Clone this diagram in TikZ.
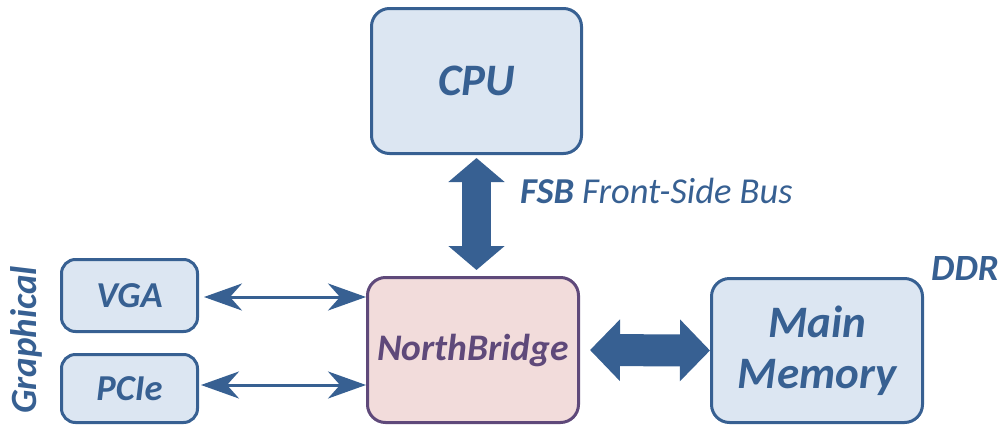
\documentclass[tikz,border=0pt]{standalone}
\usepackage{fontspec}
\setmainfont{Carlito}
\usetikzlibrary{arrows.meta}
\definecolor{bblue}{HTML}{376092}
\definecolor{bfill}{HTML}{DCE6F2}
\definecolor{pfill}{HTML}{F2DCDB}
\definecolor{pborder}{HTML}{5F497A}
\tikzset{
  blk/.style={draw=bblue, fill=bfill, line width=3pt, rounded corners=18pt, text=bblue,
    align=center, inner sep=0pt},
  nbblk/.style={draw=pborder, fill=pfill, line width=3pt, rounded corners=18pt, text=pborder,
    align=center, inner sep=0pt},
  smallblk/.style={blk, rounded corners=14pt},
  fatarrow/.style={bblue, line width=#1},
  thinarrow/.style={bblue, line width=3pt, {Stealth[length=38pt,width=27pt,inset=12pt]}-{Stealth[length=38pt,width=27pt,inset=12pt]}},
  lbl/.style={text=bblue, inner sep=0pt}
}
\begin{document}
\begin{tikzpicture}[x=1pt,y=-1pt]
\useasboundingbox (0,0) rectangle (999,426);
\node[blk, minimum width=210pt, minimum height=145pt, font=\fontsize{45}{51}\selectfont\bfseries\itshape] (cpu) at (476.5,81) {CPU};
\node[nbblk, minimum width=211pt, minimum height=145pt, font=\fontsize{37.5}{43}\selectfont\bfseries\itshape] (nb) at (473,350) {NorthBridge};
\node[blk, minimum width=211pt, minimum height=144pt, font=\fontsize{45}{51}\selectfont\bfseries\itshape] (mm) at (817,350.5) {Main\\Memory};
\node[smallblk, minimum width=136pt, minimum height=72pt, font=\fontsize{36.5}{43}\selectfont\bfseries\itshape] (vga) at (129.5,295.5) {VGA};
\node[smallblk, minimum width=136pt, minimum height=68pt, font=\fontsize{36.5}{43}\selectfont\bfseries\itshape] (pcie) at (129.5,388.5) {PCIe};

\draw[fatarrow=29pt, {Triangle[length=24pt,width=55pt]}-{Triangle[length=24pt,width=55pt]}, shorten <=3pt, shorten >=6pt]
  (cpu.south) -- (cpu.south |- nb.north);
\draw[fatarrow=32pt, {Triangle[length=30pt,width=60pt]}-{Triangle[length=30pt,width=60pt]}, shorten <=10pt]
  (nb.east) -- (mm.west);
\draw[thinarrow, shorten <=5pt] ([yshift=-1.5pt]vga.east) -- ([yshift=-1.5pt]vga.east -| nb.west);
\draw[thinarrow, shorten <=2pt] ([yshift=3.5pt]pcie.east) -- ([yshift=3.5pt]pcie.east -| nb.west);

\node[lbl, anchor=base west, font=\fontsize{36.5}{42}\selectfont\itshape] (fsb) at (520,203) {\textbf{FSB} Front-Side Bus};
\node[lbl, anchor=base west, font=\fontsize{37}{42}\selectfont\bfseries\itshape] (ddr) at (931,280) {DDR};
\node[lbl, anchor=base, rotate=90, font=\fontsize{37}{42}\selectfont\bfseries\itshape] (gfx) at (36,340) {Graphical};
\end{tikzpicture}
\end{document}
